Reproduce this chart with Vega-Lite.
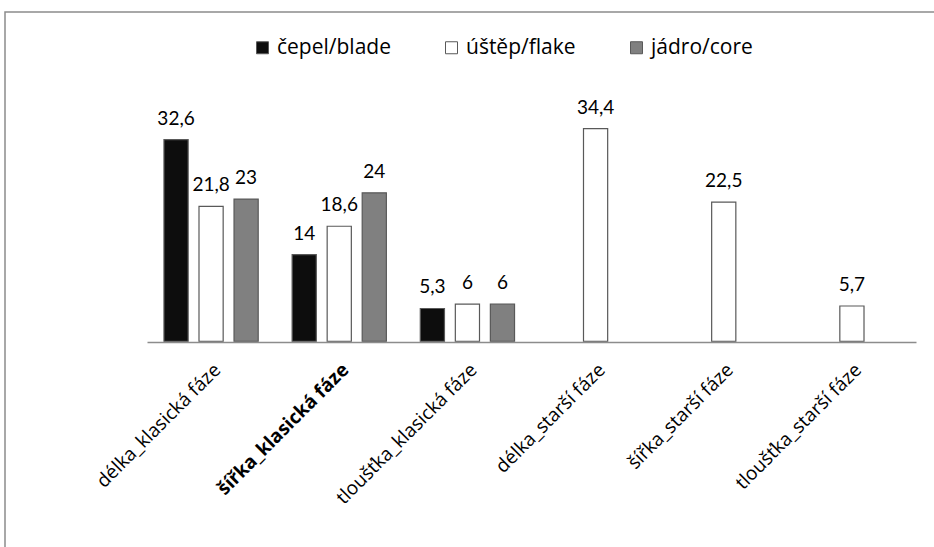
{
  "$schema": "https://vega.github.io/schema/vega-lite/v6.json",
  "width": 931,
  "height": 537,
  "autosize": "none",
  "padding": {"left": 5, "top": 12, "right": 0, "bottom": 0},
  "background": "white",
  "config": {
    "view": {"stroke": "#8c8c8c", "strokeWidth": 1.5},
    "font": "Open Sans"
  },
  "data": {
    "values": [
      {"kategorie": "délka_klasická fáze", "typ": "čepel/blade", "hodnota": 32.6, "label": "32,6"},
      {"kategorie": "délka_klasická fáze", "typ": "úštěp/flake", "hodnota": 21.8, "label": "21,8"},
      {"kategorie": "délka_klasická fáze", "typ": "jádro/core", "hodnota": 23, "label": "23"},
      {"kategorie": "šířka_klasická fáze", "typ": "čepel/blade", "hodnota": 14, "label": "14"},
      {"kategorie": "šířka_klasická fáze", "typ": "úštěp/flake", "hodnota": 18.6, "label": "18,6"},
      {"kategorie": "šířka_klasická fáze", "typ": "jádro/core", "hodnota": 24, "label": "24"},
      {"kategorie": "tloušťka_klasická fáze", "typ": "čepel/blade", "hodnota": 5.3, "label": "5,3"},
      {"kategorie": "tloušťka_klasická fáze", "typ": "úštěp/flake", "hodnota": 6, "label": "6"},
      {"kategorie": "tloušťka_klasická fáze", "typ": "jádro/core", "hodnota": 6, "label": "6"},
      {"kategorie": "délka_starší fáze", "typ": "úštěp/flake", "hodnota": 34.4, "label": "34,4"},
      {"kategorie": "šířka_starší fáze", "typ": "úštěp/flake", "hodnota": 22.5, "label": "22,5"},
      {"kategorie": "tloušťka_starší fáze", "typ": "úštěp/flake", "hodnota": 5.7, "label": "5,7"}
    ]
  },
  "encoding": {
    "x": {
      "field": "kategorie",
      "type": "nominal",
      "sort": ["délka_klasická fáze", "šířka_klasická fáze", "tloušťka_klasická fáze", "délka_starší fáze", "šířka_starší fáze", "tloušťka_starší fáze"],
      "scale": {"range": [142, 911], "paddingInner": 0.18, "paddingOuter": 0.09},
      "axis": {
        "title": null,
        "offset": -207,
        "labelAngle": -45,
        "labelFontSize": 19,
        "labelColor": "#000000",
        "labelLimit": 400,
        "labelFontWeight": {"condition": {"test": "datum.value == 'šířka_klasická fáze'", "value": "bold"}, "value": "normal"},
        "labelPadding": 18,
        "ticks": false,
        "domainColor": "#8c8c8c",
        "domainWidth": 1.5,
        "grid": false
      }
    },
    "xOffset": {
      "field": "typ",
      "type": "nominal",
      "sort": ["čepel/blade", "úštěp/flake", "jádro/core"],
      "scale": {"paddingInner": 0.31, "paddingOuter": 0.155}
    },
    "y": {
      "field": "hodnota",
      "type": "quantitative",
      "scale": {"domain": [-33.6, 53.25], "nice": false, "zero": false},
      "axis": null
    }
  },
  "layer": [
    {
      "mark": {"type": "bar", "stroke": "#595959", "strokeWidth": 1.2},
      "encoding": {
        "y2": {"datum": 0},
        "fill": {
          "field": "typ",
          "type": "nominal",
          "scale": {"domain": ["čepel/blade", "úštěp/flake", "jádro/core"], "range": ["#0d0d0d", "#ffffff", "#808080"]},
          "legend": {
            "title": null,
            "orient": "none",
            "direction": "horizontal",
            "legendX": 247,
            "legendY": 25,
            "symbolType": "square",
            "symbolSize": 144,
            "symbolStrokeColor": "#595959",
            "symbolStrokeWidth": 1,
            "labelFont": "Open Sans",
            "labelFontSize": 21,
            "labelColor": "#000000",
            "labelOffset": 4,
            "columnPadding": 50
          }
        }
      }
    },
    {
      "mark": {"type": "text", "baseline": "alphabetic", "dy": -15, "fontSize": 19, "font": "Lato", "color": "#000000"},
      "encoding": {"text": {"field": "label"}}
    }
  ]
}
